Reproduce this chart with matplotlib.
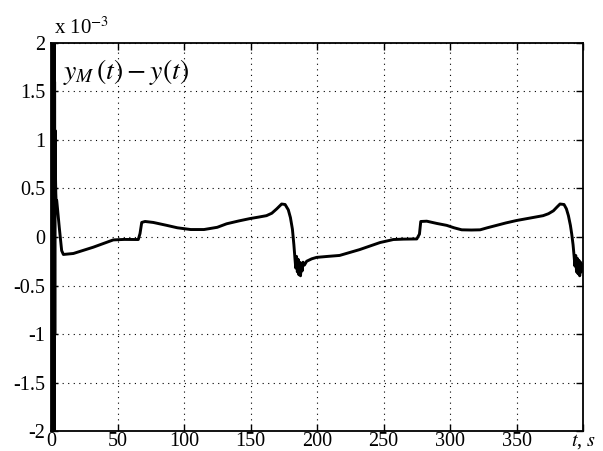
import numpy as np
import matplotlib
matplotlib.use('Agg')
import matplotlib.pyplot as plt

plt.rcParams['font.family'] = ['Liberation Serif', 'DejaVu Serif']
plt.rcParams['mathtext.fontset'] = 'stix'

# start-up transient (values in units of 1e-3, clipped by the axes)
t_start = [0.0, 0.15, 0.3, 0.45, 0.6, 0.75, 0.9, 1.05, 1.2, 1.35, 1.5, 1.65,
           1.8, 1.95, 2.1, 2.25, 2.4, 2.55, 2.7, 2.85, 3.0, 3.2, 3.4, 3.6, 3.8]
v_start = [3.0, -3.0, 3.0, -3.0, 3.0, -3.0, 3.0, -3.0, 3.0, -3.0, 3.0, -3.0,
           3.0, -3.0, 3.0, -3.0, 2.5, -2.5, 1.6, -1.0, 1.1, 0.9, 0.6, 0.45, 0.38]

# rest of the error curve
t_main = [4.3, 6.2, 8.0, 9.3, 16.8, 31.8, 46.8, 55.0, 65.6, 66.9, 68.2, 70.7,
          76.9, 87.0, 95.0, 105.0, 115.0, 125.0, 132.0, 141.0, 149.6, 156.0,
          162.0, 166.0, 169.7, 173.4, 176.0, 178.4, 180.0, 181.5, 182.6, 183.4,
          184.0, 184.6, 185.2, 185.8, 186.4, 187.0, 187.6, 188.2, 188.8, 189.5,
          190.5, 192.2, 196.0, 199.7, 208.0, 217.0, 232.0, 247.4, 257.4, 265.0,
          275.0, 277.0, 278.0, 282.5, 290.0, 297.5, 303.0, 308.8, 316.0, 322.6,
          328.0, 335.0, 342.0, 350.0, 360.0, 370.0, 374.0, 377.7, 380.5, 382.7,
          385.7, 387.5, 389.0, 390.5, 391.5, 392.5, 393.3, 393.9, 394.5, 395.1,
          395.7, 396.3, 396.9, 397.5, 398.1, 398.7, 399.3, 400.0]
v_main = [0.376, 0.10, -0.14, -0.18, -0.17, -0.105, -0.03, -0.025, -0.026,
          0.035, 0.15, 0.16, 0.15, 0.12, 0.095, 0.077, 0.077, 0.10, 0.136,
          0.165, 0.19, 0.205, 0.22, 0.245, 0.29, 0.34, 0.335, 0.28, 0.20, 0.08,
          -0.08, -0.22, -0.32, -0.20, -0.36, -0.23, -0.39, -0.26, -0.40, -0.27,
          -0.35, -0.26, -0.29, -0.25, -0.225, -0.21, -0.20, -0.19, -0.13, -0.057,
          -0.026, -0.022, -0.02, 0.03, 0.16, 0.163, 0.14, 0.12, 0.095, 0.074,
          0.072, 0.074, 0.095, 0.12, 0.145, 0.17, 0.195, 0.22, 0.24, 0.27, 0.31,
          0.34, 0.335, 0.29, 0.22, 0.12, 0.03, -0.08, -0.20, -0.30, -0.19, -0.36,
          -0.22, -0.38, -0.24, -0.40, -0.26, -0.36, -0.28, -0.33]

t = np.array(t_start + t_main)
err = np.array(v_start + v_main) * 1e-3

xticks = [0, 50, 100, 150, 200, 250, 300, 350, 400]
xlabels = ['0', '50', '100', '150', '200', '250', '300', '350', '$t$, $s$']
yticks = [-2e-3, -1.5e-3, -1e-3, -0.5e-3, 0, 0.5e-3, 1e-3, 1.5e-3, 2e-3]
ylabels = ['-2', '-1.5', '-1', '-0.5', '0', '0.5', '1', '1.5', '2']

fig = plt.figure(figsize=(6.03, 4.51), dpi=100)
ax = fig.add_axes([0.0846, 0.0443, 0.8823, 0.8604])
ax.plot(t, err, color='black', lw=2.1)

ax.set_xlim(0, 400)
ax.set_ylim(-2e-3, 2e-3)
ax.set_xticks(xticks)
ax.set_xticklabels(xlabels, fontsize=14.5)
ax.set_yticks(yticks)
ax.set_yticklabels(ylabels, fontsize=14.5)
ax.tick_params(direction='in', length=5, width=1, top=True, right=True)
ax.tick_params(axis='x', pad=1)
ax.tick_params(axis='y', pad=4)
ax.grid(True, color='black', linestyle=(0, (1, 4)), lw=0.8)
for s in ax.spines.values():
    s.set_linewidth(1.3)

fig.text(0.09, 0.925, r'x 10$^{-3}$', fontsize=15)
ax.text(0.022, 0.965, r'$y_M\,(t) - y(t)$', transform=ax.transAxes,
        fontsize=20, va='top', ha='left')

fig.savefig('out.png', dpi=100)
